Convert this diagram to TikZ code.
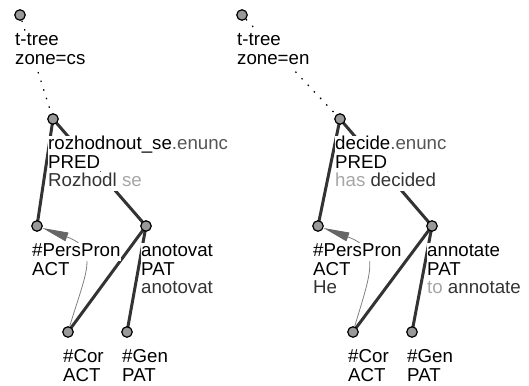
\documentclass[tikz,border=0pt]{standalone}
\usepackage{fontspec}
\setmainfont{Liberation Sans}
\usepackage{tikz}
\usetikzlibrary{arrows.meta, backgrounds}
\definecolor{edge}{HTML}{333333}
\definecolor{dot-fill}{HTML}{999999}
\definecolor{coref}{HTML}{808080}
\definecolor{wedge}{HTML}{666666}
\definecolor{aux}{HTML}{A6A6A6}
\definecolor{enunc}{HTML}{555555}
\definecolor{form}{HTML}{333333}
\setlength{\fboxsep}{0pt}
\newcommand{\tline}[1]{\colorbox{white}{\rule[-4.2pt]{0pt}{18.2pt}#1}}
\tikzset{
    tdot/.style = {circle, draw=black, fill=dot-fill, line width=1.2pt, minimum size=10.5pt, inner sep=0pt},
    tlabel/.style = {anchor=north west, align=left, inner sep=0pt, xshift=-5pt, yshift=-16.7pt, font=\fontsize{18.7}{18.2}\selectfont},
    tedge/.style = {draw=edge, line width=3pt},
    tzone/.style = {draw=black, line width=1.2pt, dash pattern=on 1.5pt off 7.5pt},
    tcoref/.style = {draw=coref, line width=0.8pt, -{Triangle[length=26pt, width=9pt, color=wedge, fill=wedge]}}
}

\begin{document}
\begin{tikzpicture}[x=1pt, y=-1pt]
\useasboundingbox (0,0) rectangle (529,385);

%cs tree
\node[tdot] (rootA) at (20,15) {};
\node[tdot] (predA) at (53,119) {};
\node[tdot] (persA) at (37,226) {};
\node[tdot] (anotA) at (146,226) {};
\node[tdot] (corA) at (68,332) {};
\node[tdot] (genA) at (127,332) {};

%en tree
\node[tdot] (rootB) at (242,15) {};
\node[tdot] (predB) at (340,119) {};
\node[tdot] (persB) at (318,226) {};
\node[tdot] (anotB) at (432,226) {};
\node[tdot] (corB) at (353,332) {};
\node[tdot] (genB) at (412,332) {};

%edges
\begin{scope}[on background layer]
\draw[tzone] (rootA) -- (predA);
\draw[tedge] (predA.center) -- (persA.center);
\draw[tedge] (predA.center) -- (anotA.center);
\draw[tedge] (anotA.center) -- (corA.center);
\draw[tedge] (anotA.center) -- (genA.center);
\draw[tcoref] (corA) .. controls (86,272) and (100,249) .. (persA);

\draw[tzone] (rootB) -- (predB);
\draw[tedge] (predB.center) -- (persB.center);
\draw[tedge] (predB.center) -- (anotB.center);
\draw[tedge] (anotB.center) -- (corB.center);
\draw[tedge] (anotB.center) -- (genB.center);
\draw[tcoref] (corB) .. controls (371,272) and (381,249) .. (persB);
\end{scope}

%labels cs
\node[tlabel] (rootA-l) at (rootA) {\tline{t-tree}\\\tline{zone=cs}};
\node[tlabel] (predA-l) at (predA) {\tline{rozhodnout\_se{\color{enunc}.enunc}}\\\tline{PRED}\\\tline{\color{form}Rozhodl {\color{aux}se}}};
\node[tlabel] (persA-l) at (persA) {\tline{\#PersPron}\\\tline{ACT}};
\node[tlabel] (anotA-l) at (anotA) {\tline{anotovat}\\\tline{PAT}\\\tline{\color{form}anotovat}};
\node[tlabel] (corA-l) at (corA) {\tline{\#Cor}\\\tline{ACT}};
\node[tlabel] (genA-l) at (genA) {\tline{\#Gen}\\\tline{PAT}};

%labels en
\node[tlabel] (rootB-l) at (rootB) {\tline{t-tree}\\\tline{zone=en}};
\node[tlabel] (predB-l) at (predB) {\tline{decide{\color{enunc}.enunc}}\\\tline{PRED}\\\tline{{\color{aux}has} \color{form}decided}};
\node[tlabel] (persB-l) at (persB) {\tline{\#PersPron}\\\tline{ACT}\\\tline{\color{form}He}};
\node[tlabel] (anotB-l) at (anotB) {\tline{annotate}\\\tline{PAT}\\\tline{{\color{aux}to} \color{form}annotate}};
\node[tlabel] (corB-l) at (corB) {\tline{\#Cor}\\\tline{ACT}};
\node[tlabel] (genB-l) at (genB) {\tline{\#Gen}\\\tline{PAT}};
\end{tikzpicture}
\end{document}
